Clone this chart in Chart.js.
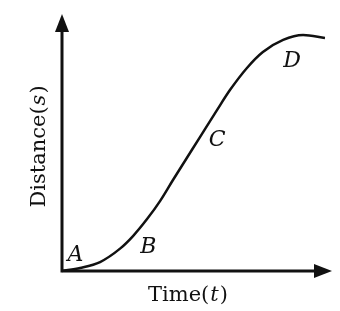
<!DOCTYPE html>
<html>
<head>
<meta charset="utf-8">
<script src="https://cdn.jsdelivr.net/npm/chart.js@4"></script>
<style>
  html, body { margin: 0; padding: 0; background: #fff; }
  canvas { display: block; }
</style>
</head>
<body>
<canvas id="motionChart" width="340" height="311"></canvas>
<script>
// distance-time curve
const timeValues = [0, 0.67, 1.41, 2.15, 2.63, 3.15, 3.63, 4.11, 5.11, 5.74, 6.22, 6.85, 7.44, 8.19, 8.93, 9.74];
const distValues = [0, 0.12, 0.35, 0.87, 1.36, 2.02, 2.72, 3.54, 5.21, 6.26, 7.04, 7.9, 8.52, 8.99, 9.18, 9.07];

// point labels
const markNames = ['A', 'B', 'C', 'D'];
const markTime = [0.5, 3.2, 5.75, 8.52];
const markDist = [0.62, 0.93, 5.1, 8.17];

const xTitle = 'Time(';
const yTitle = 'Distance(';

const SERIF = '"DejaVu Serif", "Liberation Serif", serif';

const axesPlugin = {
    id: 'axesArrows',
    afterDatasetsDraw(chart) {
        const ctx = chart.ctx;
        const x = chart.scales.x, y = chart.scales.y;
        const x0 = x.getPixelForValue(0), y0 = y.getPixelForValue(0);
        const xEnd = x.getPixelForValue(x.max), yEnd = y.getPixelForValue(y.max);

        ctx.save();
        ctx.strokeStyle = '#111';
        ctx.fillStyle = '#111';
        ctx.lineWidth = 3;
        ctx.beginPath();
        ctx.moveTo(x0, y0 + 1.5);
        ctx.lineTo(x0, yEnd + 10);
        ctx.moveTo(x0 - 1.5, y0);
        ctx.lineTo(xEnd - 10, y0);
        ctx.stroke();

        // arrow heads
        ctx.beginPath();
        ctx.moveTo(x0, yEnd);
        ctx.lineTo(x0 - 7, yEnd + 18);
        ctx.lineTo(x0 + 7, yEnd + 18);
        ctx.closePath();
        ctx.fill();
        ctx.beginPath();
        ctx.moveTo(xEnd, y0);
        ctx.lineTo(xEnd - 18, y0 - 7);
        ctx.lineTo(xEnd - 18, y0 + 7);
        ctx.closePath();
        ctx.fill();

        // point letters
        ctx.font = 'italic 22px ' + SERIF;
        ctx.textAlign = 'center';
        ctx.textBaseline = 'middle';
        markNames.forEach((n, i) => {
            ctx.fillText(n, x.getPixelForValue(markTime[i]), y.getPixelForValue(markDist[i]));
        });

        // axis titles
        const drawTitle = (txt, v, cx, cy) => {
            ctx.font = '21px ' + SERIF;
            const w1 = ctx.measureText(txt).width;
            ctx.font = 'italic 21px ' + SERIF;
            const w2 = ctx.measureText(v).width;
            ctx.font = '21px ' + SERIF;
            const w3 = ctx.measureText(')').width;
            let px = cx - (w1 + w2 + w3 + 2) / 2;
            ctx.textAlign = 'left';
            ctx.fillText(txt, px, cy);
            px += w1 + 1;
            ctx.font = 'italic 21px ' + SERIF;
            ctx.fillText(v, px, cy);
            px += w2 + 1;
            ctx.font = '21px ' + SERIF;
            ctx.fillText(')', px, cy);
        };
        drawTitle(xTitle, 't', 188, y0 + 25);
        ctx.translate(x0 - 22, (y0 + yEnd) / 2 + 4);
        ctx.rotate(-Math.PI / 2);
        drawTitle(yTitle, 's', 0, 0);
        ctx.restore();
    }
};

new Chart(document.getElementById('motionChart'), {
    type: 'line',
    data: {
        datasets: [{
            data: timeValues.map((t, i) => ({ x: t, y: distValues[i] })),
            borderColor: '#111',
            borderWidth: 2.5,
            pointRadius: 0,
            cubicInterpolationMode: 'monotone',
            fill: false,
            clip: false
        }]
    },
    options: {
        responsive: false,
        animation: false,
        layout: { padding: { left: 62, right: 8, top: 14, bottom: 40 } },
        plugins: { legend: { display: false }, tooltip: { enabled: false } },
        scales: {
            x: { type: 'linear', min: 0, max: 10, display: false },
            y: { min: 0, max: 10, display: false }
        }
    },
    plugins: [axesPlugin]
});
</script>
</body>
</html>
